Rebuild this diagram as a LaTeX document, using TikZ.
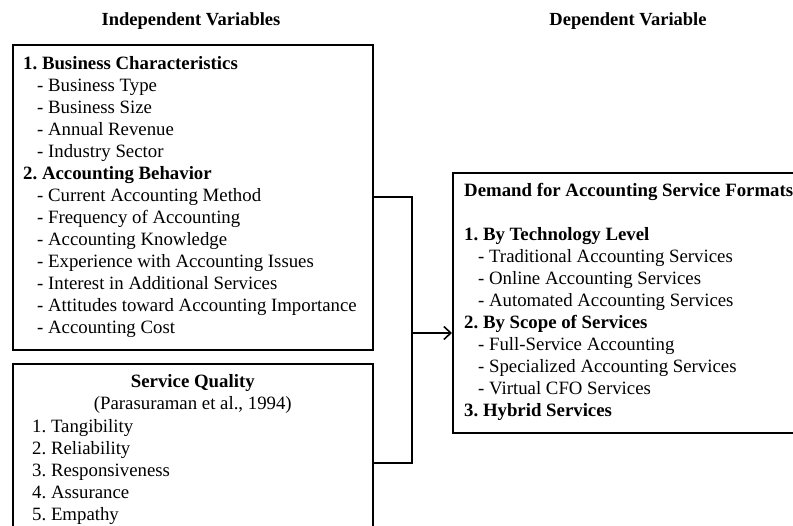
\documentclass[tikz,border=0pt]{standalone}
\usepackage{fontspec}
\setmainfont{Liberation Serif}
\usetikzlibrary{positioning,arrows.meta}

\frenchspacing
\newcommand{\subitm}[1]{\hspace*{14pt}- #1}

\tikzset{
  varbox/.style={draw,line width=1.6pt,rectangle,inner sep=0pt,anchor=north west},
  boxtext/.style={align=left,anchor=north west,inner sep=0pt,font=\fontsize{18.8}{22}\selectfont},
  heading/.style={font=\fontsize{18.5}{20}\selectfont\bfseries},
  conn/.style={line width=1.6pt},
}

\begin{document}
\begin{tikzpicture}[x=1pt,y=-1pt]
  \useasboundingbox (0,0) rectangle (793,526);
  \clip (0,0) rectangle (793,526);

  \node[heading] (indep) at (191,21) {Independent Variables};
  \node[heading] (dep)   at (628,21) {Dependent Variable};

  \begin{scope}[every node/.style={varbox}]
    \node[minimum width=360pt,minimum height=305pt] (bizbox)    at (12,44)  {};
    \node[minimum width=360pt,minimum height=198pt] (sqbox)     at (12,363) {};
    \node[minimum width=380pt,minimum height=260pt] (demandbox) at (452,172) {};
  \end{scope}

  \node[boxtext] (biztext) at ([xshift=11pt,yshift=-12pt]bizbox.north west) {%
    \textbf{1. Business Characteristics}\\
    \subitm{Business Type}\\
    \subitm{Business Size}\\
    \subitm{Annual Revenue}\\
    \subitm{Industry Sector}\\
    \textbf{2. Accounting Behavior}\\
    \subitm{Current Accounting Method}\\
    \subitm{Frequency of Accounting}\\
    \subitm{Accounting Knowledge}\\
    \subitm{Experience with Accounting Issues}\\
    \subitm{Interest in Additional Services}\\
    \subitm{Attitudes toward Accounting Importance}\\
    \subitm{Accounting Cost}};

  \node[boxtext,anchor=north,align=center] (sqtitle) at ([yshift=-11pt]sqbox.north) {%
    \textbf{Service Quality}\\
    (Parasuraman et al., 1994)};
  \node[boxtext] (sqlist) at ([xshift=20pt,yshift=-56pt]sqbox.north west) {%
    1. Tangibility\\
    2. Reliability\\
    3. Responsiveness\\
    4. Assurance\\
    5. Empathy};

  \node[boxtext] (demandtext) at ([xshift=12pt,yshift=-11pt]demandbox.north west) {%
    \textbf{Demand for Accounting Service Formats}\\[22pt]
    \textbf{1. By Technology Level}\\
    \subitm{Traditional Accounting Services}\\
    \subitm{Online Accounting Services}\\
    \subitm{Automated Accounting Services}\\
    \textbf{2. By Scope of Services}\\
    \subitm{Full-Service Accounting}\\
    \subitm{Specialized Accounting Services}\\
    \subitm{Virtual CFO Services}\\
    \textbf{3. Hybrid Services}};

  \coordinate (join) at (412,333);
  \draw[conn] (bizbox.east) -| (join) |- (sqbox.east);
  \draw[conn,-{Straight Barb[length=7pt,width=13pt]}] (join) -- (join -| demandbox.west);

\end{tikzpicture}
\end{document}
